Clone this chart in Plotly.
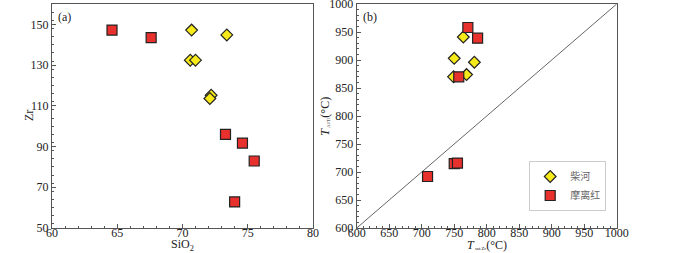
import plotly.graph_objects as go

# Panel (a): SiO2 vs Zr
chaihe_sio2 = [70.7, 73.4, 70.6, 71.0, 72.2, 72.1]
chaihe_zr = [147.2, 144.8, 132.4, 132.4, 115.2, 113.6]
molihong_sio2 = [64.6, 67.6, 73.3, 74.6, 75.5, 74.0]
molihong_zr = [147.2, 143.5, 96.0, 91.7, 82.9, 62.8]

# Panel (b): T_sat.Zr vs T_Al/Ti
chaihe_tzr = [764, 750, 781, 769, 749]
chaihe_tti = [941, 903, 896, 874, 870]
molihong_tzr = [771, 786, 757, 750, 755, 709]
molihong_tti = [958, 939, 870, 715, 716, 692]

diag = [600, 1000]

names = ["柴河", "摩离红"]
yellow = "#f7ea1a"
red = "#e8302c"
edge = "#222222"
font = "Liberation Serif"
txt = "#222222"

fig = go.Figure()

fig.add_trace(go.Scatter(x=molihong_sio2, y=molihong_zr, mode="markers", xaxis="x", yaxis="y",
                         marker=dict(symbol="square", size=10, color=red, line=dict(color=edge, width=1.2)),
                         showlegend=False))
fig.add_trace(go.Scatter(x=chaihe_sio2, y=chaihe_zr, mode="markers", xaxis="x", yaxis="y",
                         marker=dict(symbol="diamond", size=9, color=yellow, line=dict(color=edge, width=1.2)),
                         showlegend=False))

fig.add_trace(go.Scatter(x=diag, y=diag, mode="lines", xaxis="x2", yaxis="y2",
                         line=dict(color="#666666", width=1), showlegend=False, hoverinfo="skip"))
fig.add_trace(go.Scatter(x=chaihe_tzr, y=chaihe_tti, mode="markers", xaxis="x2", yaxis="y2", name=names[0],
                         marker=dict(symbol="diamond", size=9, color=yellow, line=dict(color=edge, width=1.2))))
fig.add_trace(go.Scatter(x=molihong_tzr, y=molihong_tti, mode="markers", xaxis="x2", yaxis="y2", name=names[1],
                         marker=dict(symbol="square", size=10, color=red, line=dict(color=edge, width=1.2))))

axcommon = dict(showline=True, linecolor="#555555", linewidth=1, mirror=True, ticks="inside", ticklen=4,
                tickcolor="#555555", showgrid=False, zeroline=False, automargin=False,
                ticklabeloverflow="allow",
                tickfont=dict(family=font, size=12, color=txt))
minor = lambda d: dict(ticks="inside", dtick=d, ticklen=2, tickcolor="#555555")

XA = [0.0743, 0.447]
XB = [0.5096, 0.881]

fig.update_layout(
    width=700, height=253,
    margin=dict(l=0, r=0, t=4, b=25),
    paper_bgcolor="white", plot_bgcolor="white",
    font=dict(family=font, size=12, color=txt),
    xaxis=dict(domain=XA, range=[60, 80], dtick=5, minor=minor(1), anchor="y",
               ticklabelstandoff=-6, **axcommon),
    yaxis=dict(domain=[0, 1], range=[50, 160], tickvals=[50, 70, 90, 110, 130, 150],
               minor=minor(4), anchor="x", ticklabelstandoff=0, **axcommon),
    xaxis2=dict(domain=XB, range=[600, 1000], dtick=50, minor=minor(10), anchor="y2",
                ticklabelstandoff=-6, **axcommon),
    yaxis2=dict(domain=[0, 1], range=[600, 1000], dtick=50, minor=minor(10), anchor="x2",
                ticklabelstandoff=0, **axcommon),
    legend=dict(x=0.866, y=0.076, xanchor="right", yanchor="bottom", bgcolor="white",
                bordercolor="#cccccc", borderwidth=1,
                font=dict(family="Noto Sans CJK SC", size=10, color="#666666"),
                itemwidth=30, tracegroupgap=0),
)

ann = [
    dict(text="(a)", x=XA[0], y=1, xanchor="left", yanchor="top", xshift=4, yshift=-4),
    dict(text="(b)", x=XB[0], y=1, xanchor="left", yanchor="top", xshift=4, yshift=-4),
    dict(text="SiO<sub>2</sub>", x=sum(XA) / 2, y=0, xanchor="center", yanchor="middle", yshift=-17),
    dict(text="<i>T</i><span style='font-size:7px'><sub> sat.Zr</sub></span>(°C)", x=sum(XB) / 2, y=0,
         xanchor="center", yanchor="middle", yshift=-17),
    dict(text="Zr", x=XA[0], y=0.5, xanchor="center", yanchor="middle", xshift=-23, textangle=-90),
    dict(text="<i>T</i><span style='font-size:7px'><sub> Al/Ti</sub></span>(°C)", x=XB[0], y=0.5,
         xanchor="center", yanchor="middle", xshift=-32, textangle=-90),
]
for a in ann:
    a.update(xref="paper", yref="paper", showarrow=False, font=dict(family=font, size=12, color=txt))
fig.update_layout(annotations=ann)

fig.write_html("out.html", config={"displayModeBar": False},
               post_script="document.body.style.margin='0';document.body.style.overflow='hidden';")
